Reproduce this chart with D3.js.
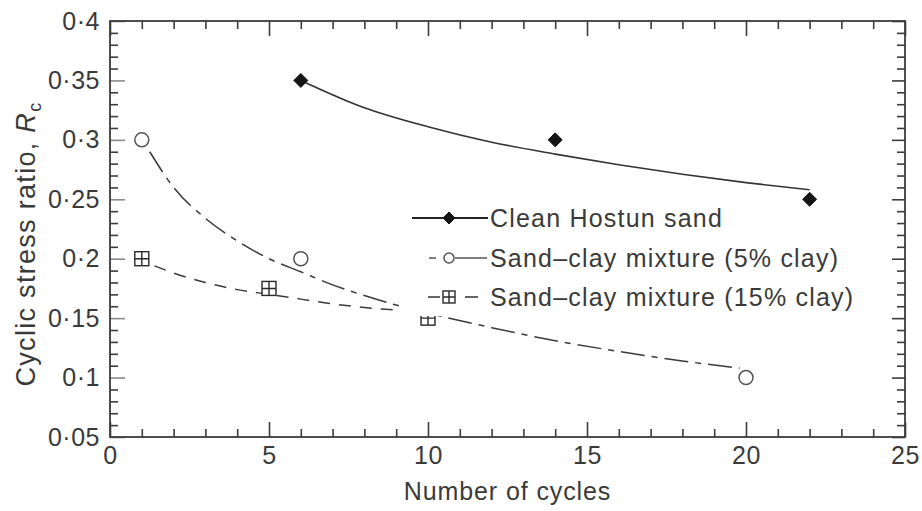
<!DOCTYPE html>
<html>
<head>
<meta charset="utf-8">
<script src="https://cdn.jsdelivr.net/npm/d3@7"></script>
<style>
  body { margin: 0; background: #fff; }
  svg { display: block; }
  text { font-family: "Liberation Sans", Arial, Helvetica, sans-serif; fill: #3a3a3a; }
</style>
</head>
<body>
<svg id="chart" width="922" height="511"></svg>
<script>
// ---- data ----------------------------------------------------------------
const seriesNames = [
  "Clean Hostun sand",
  "Sand\u2013clay mixture (5% clay)",
  "Sand\u2013clay mixture (15% clay)"
];

// measured points (number of cycles, cyclic stress ratio)
const cleanN = [6, 14, 22];
const cleanR = [0.35, 0.30, 0.25];
const clay5N = [1, 6, 20];
const clay5R = [0.30, 0.20, 0.10];
const clay15N = [1, 5, 10];
const clay15R = [0.20, 0.175, 0.15];

// fitted trend curves
const cleanFitN = [6, 8, 10, 12, 14, 16, 18, 20, 22];
const cleanFitR = [0.350, 0.327, 0.311, 0.298, 0.288, 0.279, 0.271, 0.264, 0.258];
const clay5FitN = [1.25, 2, 3, 4, 5, 6, 7, 8, 9, 10.5, 12, 14, 16, 18, 19.8];
const clay5FitR = [0.290, 0.260, 0.234, 0.215, 0.200, 0.189, 0.178, 0.169, 0.161, 0.151, 0.142, 0.131, 0.122, 0.114, 0.108];
const clay15FitN = [1.4, 2, 3, 4, 5, 6, 7, 8, 9.3, 10];
const clay15FitR = [0.194, 0.188, 0.180, 0.174, 0.170, 0.166, 0.162, 0.159, 0.156, 0.154];

// axes
const xMajorTicks = [0, 5, 10, 15, 20, 25];
const yMajorTicks = [0.05, 0.1, 0.15, 0.2, 0.25, 0.3, 0.35, 0.4];
const xTitle = "Number of cycles";
const yTitle = "Cyclic stress ratio, ";

// ---- layout --------------------------------------------------------------
const svg = d3.select("#chart");
const plotL = 110, plotR = 905, plotT = 21, plotB = 437;
const x = d3.scaleLinear().domain([0, 25]).range([plotL, plotR]);
const y = d3.scaleLinear().domain([0.05, 0.4]).range([plotB, plotT]);

const xMinor = d3.range(0, 26, 1).filter(v => v % 5 !== 0);
const yMinor = d3.range(5, 41, 1).map(v => v / 100).filter(v => Math.round(v * 100) % 5 !== 0);
const fmt = d => String(+d.toFixed(2)).replace(".", "\u00B7");

const axisColor = "#3c3c3c";
const tickFont = "25px";

function styleAxis(g, color) {
  g.select(".domain").remove();
  g.selectAll(".tick line").attr("stroke", color).attr("stroke-width", 1.6);
  g.selectAll(".tick text")
    .style("font-size", tickFont)
    .style("letter-spacing", "0.5px")
    .attr("fill", "#3a3a3a");
}

// bottom axis (ticks point into the plot)
svg.append("g").attr("transform", `translate(0,${plotB})`)
  .call(d3.axisBottom(x).tickValues(xMinor).tickSize(-8).tickFormat(""))
  .call(g => styleAxis(g, axisColor));
svg.append("g").attr("transform", `translate(0,${plotB})`)
  .call(d3.axisBottom(x).tickValues(xMajorTicks).tickSize(-15).tickPadding(9).tickFormat(d3.format("d")))
  .call(g => styleAxis(g, axisColor));

// top axis
svg.append("g").attr("transform", `translate(0,${plotT})`)
  .call(d3.axisTop(x).tickValues(xMinor).tickSize(-8).tickFormat(""))
  .call(g => styleAxis(g, axisColor));
svg.append("g").attr("transform", `translate(0,${plotT})`)
  .call(d3.axisTop(x).tickValues(xMajorTicks).tickSize(-15).tickFormat(""))
  .call(g => styleAxis(g, axisColor));

// left axis
svg.append("g").attr("transform", `translate(${plotL},0)`)
  .call(d3.axisLeft(y).tickValues(yMinor).tickSize(-8).tickFormat(""))
  .call(g => styleAxis(g, axisColor));
svg.append("g").attr("transform", `translate(${plotL},0)`)
  .call(d3.axisLeft(y).tickValues(yMajorTicks).tickSize(-15).tickPadding(10).tickFormat(fmt))
  .call(g => styleAxis(g, "#8a8a8a"));

// right axis
svg.append("g").attr("transform", `translate(${plotR},0)`)
  .call(d3.axisRight(y).tickValues(yMinor).tickSize(-8).tickFormat(""))
  .call(g => styleAxis(g, axisColor));
svg.append("g").attr("transform", `translate(${plotR},0)`)
  .call(d3.axisRight(y).tickValues(yMajorTicks).tickSize(-13).tickFormat(""))
  .call(g => styleAxis(g, axisColor));

// frame
svg.append("rect")
  .attr("x", plotL).attr("y", plotT)
  .attr("width", plotR - plotL).attr("height", plotB - plotT)
  .attr("fill", "none").attr("stroke", axisColor).attr("stroke-width", 1.8);

// axis titles
svg.append("text")
  .attr("x", (plotL + plotR) / 2).attr("y", 500)
  .attr("text-anchor", "middle")
  .style("font-size", "25px").style("letter-spacing", "0.9px")
  .text(xTitle);

const yt = svg.append("text")
  .attr("transform", `translate(35,${(plotT + plotB) / 2 + 15}) rotate(-90)`)
  .attr("text-anchor", "middle")
  .style("font-size", "27px").style("letter-spacing", "1.3px");
yt.append("tspan").text(yTitle);
yt.append("tspan").style("font-style", "italic").text("R");
yt.append("tspan").attr("dy", 6).style("font-size", "18px").text("c");

// ---- curves ----------------------------------------------------------------
const line = d3.line().x(d => x(d[0])).y(d => y(d[1])).curve(d3.curveMonotoneX);
const zip = (a, b) => a.map((v, i) => [v, b[i]]);

svg.append("path").datum(zip(cleanFitN, cleanFitR))
  .attr("d", line).attr("fill", "none")
  .attr("stroke", "#333").attr("stroke-width", 1.6);

svg.append("path").datum(zip(clay5FitN, clay5FitR))
  .attr("d", line).attr("fill", "none")
  .attr("stroke", "#3a3a3a").attr("stroke-width", 1.5)
  .attr("stroke-dasharray", "24,7,6,7");

svg.append("path").datum(zip(clay15FitN, clay15FitR))
  .attr("d", line).attr("fill", "none")
  .attr("stroke", "#3a3a3a").attr("stroke-width", 1.5)
  .attr("stroke-dasharray", "12,9");

// ---- markers ---------------------------------------------------------------
function diamond(g, cx, cy, s) {
  g.append("path")
    .attr("d", `M${cx},${cy - s}L${cx + s},${cy}L${cx},${cy + s}L${cx - s},${cy}Z`)
    .attr("fill", "#151515").attr("stroke", "#151515").attr("stroke-width", 1);
}
function circle(g, cx, cy, r) {
  g.append("circle").attr("cx", cx).attr("cy", cy).attr("r", r)
    .attr("fill", "#fff").attr("stroke", "#555").attr("stroke-width", 1.5);
}
function gridSquare(g, cx, cy, h) {
  g.append("rect").attr("x", cx - h).attr("y", cy - h)
    .attr("width", 2 * h).attr("height", 2 * h)
    .attr("fill", "#fff").attr("stroke", "#2a2a2a").attr("stroke-width", 1.4);
  g.append("path")
    .attr("d", `M${cx},${cy - h}V${cy + h}M${cx - h},${cy}H${cx + h}`)
    .attr("stroke", "#2a2a2a").attr("stroke-width", 1.4);
}

const mk = svg.append("g");
zip(cleanN, cleanR).forEach(d => diamond(mk, x(d[0]), y(d[1]), 7));
zip(clay5N, clay5R).forEach(d => circle(mk, x(d[0]), y(d[1]), 7));
zip(clay15N, clay15R).forEach(d => gridSquare(mk, x(d[0]), y(d[1]), 7));

// ---- legend ----------------------------------------------------------------
const lg = svg.append("g");
lg.append("rect").attr("x", 400).attr("y", 207).attr("width", 470).attr("height", 109)
  .attr("fill", "#fff");

const rowY = [218, 258, 297];
const textX = 490, symX = 449;

lg.append("line").attr("x1", 412).attr("x2", 488).attr("y1", rowY[0]).attr("y2", rowY[0])
  .attr("stroke", "#222").attr("stroke-width", 1.8);
diamond(lg, symX, rowY[0], 6);

lg.append("path").attr("d", `M429,${rowY[1]}H436M455,${rowY[1]}H487`)
  .attr("stroke", "#555").attr("stroke-width", 1.6);
circle(lg, symX, rowY[1], 5);

lg.append("path").attr("d", `M428,${rowY[2]}H440M465,${rowY[2]}H478`)
  .attr("stroke", "#333").attr("stroke-width", 1.6);
gridSquare(lg, symX, rowY[2], 6);

seriesNames.forEach((name, i) => {
  lg.append("text")
    .attr("x", textX).attr("y", rowY[i])
    .attr("dy", "0.36em")
    .style("font-size", "25px").style("letter-spacing", "1.2px")
    .text(name);
});
</script>
</body>
</html>
